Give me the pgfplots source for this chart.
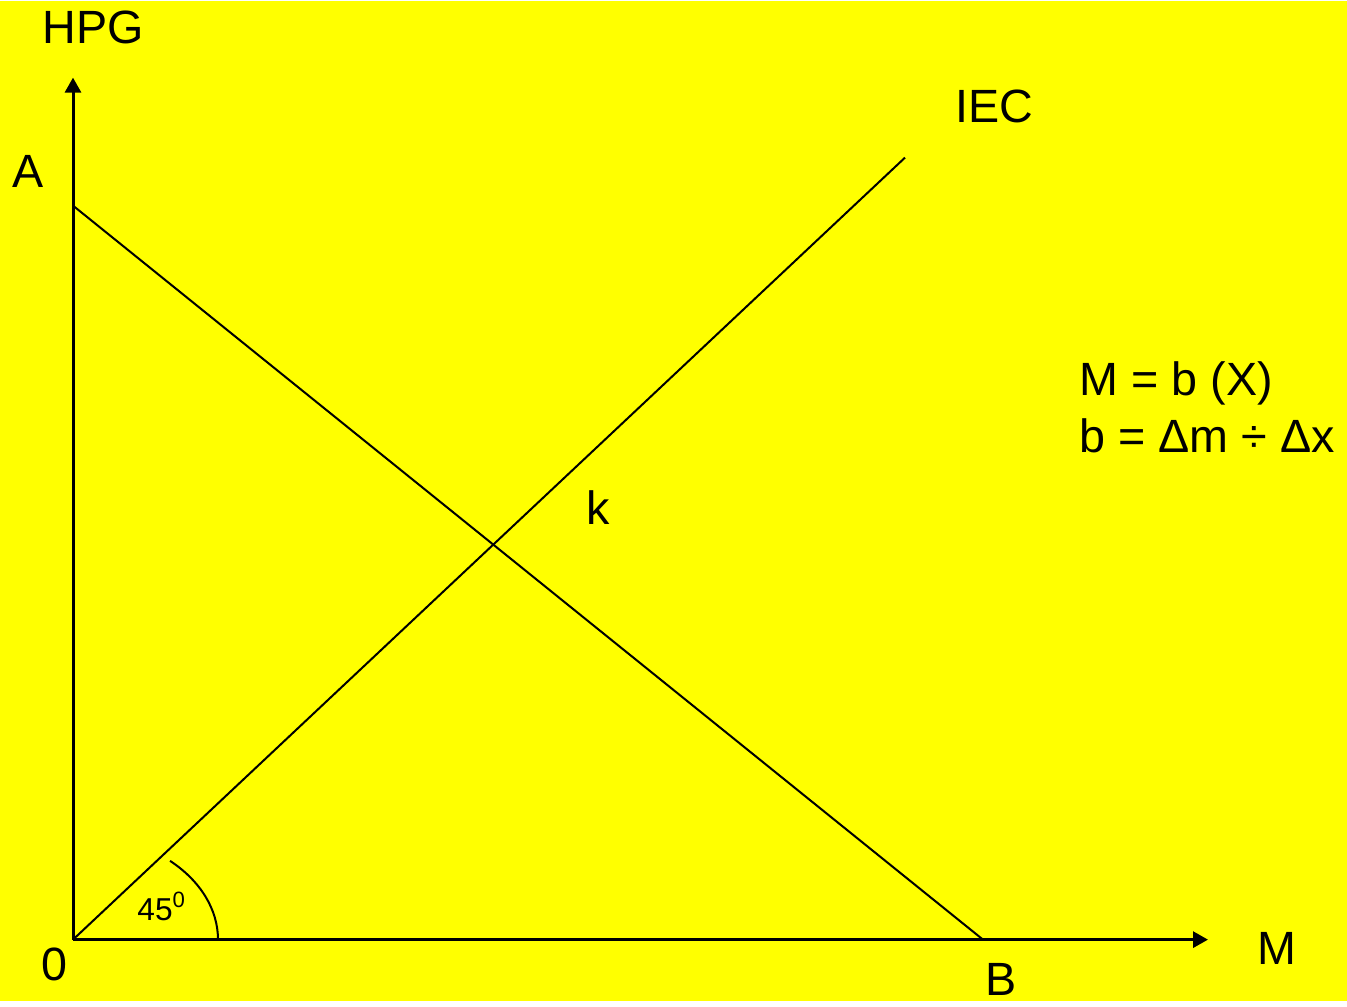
\documentclass[border=0pt]{standalone}
\usepackage{pgfplots}
\pgfplotsset{compat=1.18}
\usepackage{fontspec}
\setmainfont{Liberation Sans}
\usetikzlibrary{arrows.meta}
\definecolor{bgyellow}{RGB}{255,255,0}
\newcommand{\lbl}{\fontsize{14}{16}\selectfont}

\begin{document}
\begin{tikzpicture}
\begin{axis}[
    width=404.1pt, height=300pt,
    scale only axis,
    xmin=0, xmax=1347, ymin=0, ymax=1000,
    enlargelimits=false,
    axis line style={draw=none},
    ticks=none,
    axis background/.style={fill=bgyellow},
    clip=false,
]
% axes
\addplot[black, line width=0.9pt, -{Triangle[length=4.5pt,width=4.8pt]}]
    coordinates {(73,61) (73,923)};
\addplot[black, line width=0.9pt, -{Triangle[length=4.5pt,width=4.8pt]}]
    coordinates {(73,61) (1208,61)};
% A-B line
\addplot[black, line width=0.6pt] coordinates {(73,795) (983,61)};
% IEC line
\addplot[black, line width=0.6pt] coordinates {(73,61) (905,843)};
% 45 degree arc
\draw[black, line width=0.6pt] (axis cs:218,61)
    arc[start angle=0, end angle=48, x radius=43.5pt, y radius=31.8pt];

\node[font=\lbl] at (axis cs:93,973) {HPG};
\node[font=\lbl] at (axis cs:28,829) {A};
\node[font=\lbl] at (axis cs:994,894) {IEC};
\node[font=\lbl] at (axis cs:598,493) {k};
\node[font=\lbl] at (axis cs:54,36) {0};
\node[font=\lbl] at (axis cs:1001,21) {B};
\node[font=\lbl] at (axis cs:1277,52) {M};
\node[font=\lbl, anchor=base west, inner sep=0pt] at (axis cs:1079,605) {M = b (X)};
\node[font=\lbl, anchor=base west, inner sep=0pt] at (axis cs:1079,548) {b = Δm ÷ Δx};
\node[font=\fontsize{9.5}{11}\selectfont] at (axis cs:162,94) {45\textsuperscript{0}};
\end{axis}
\end{tikzpicture}
\end{document}
